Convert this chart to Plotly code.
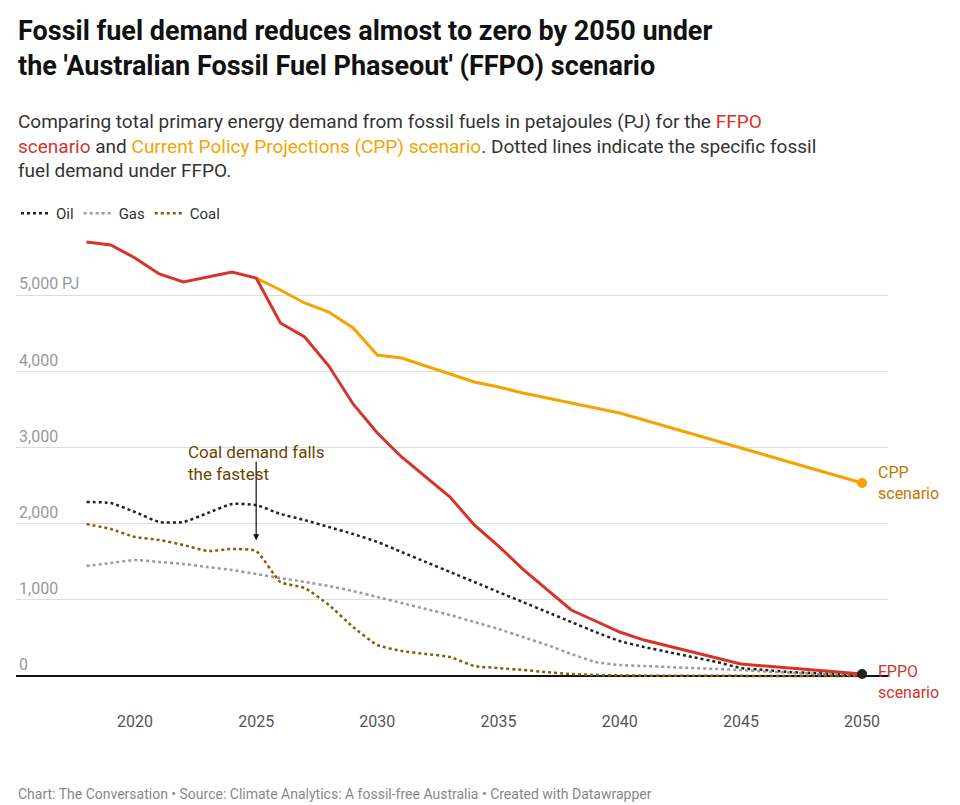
import plotly.graph_objects as go

years = list(range(2018, 2051))
ffpo = [5695,5656,5486,5276,5171,5236,5302,5223,4633,4449,4068,3570,3189,2874,2612,2349,1982,1706,1404,1129,866,722,577,472,394,315,236,157,131,105,79,52,26]
cpp_years = list(range(2025, 2051))
cpp = [5223,5066,4895,4777,4567,4213,4173,4068,3963,3858,3793,3714,3648,3583,3517,3451,3360,3268,3176,3084,2992,2900,2808,2717,2625,2533]
oil = [2283,2270,2152,2021,2021,2139,2257,2244,2126,2047,1955,1863,1759,1627,1496,1365,1234,1102,971,840,709,577,459,381,315,249,184,105,79,52,39,26,13]
gas = [1444,1483,1522,1496,1470,1430,1391,1339,1286,1234,1181,1115,1037,958,879,801,709,617,512,407,289,184,144,131,118,105,92,79,60,45,30,20,10]
coal = [1995,1929,1824,1785,1719,1640,1667,1640,1234,1155,932,643,407,328,289,249,131,105,79,52,26,13,8,5,4,3,2,2,1,1,1,1,1]
yticks = [0,1000,2000,3000,4000,5000]
ytext = ["0","1,000","2,000","3,000","4,000","5,000 PJ"]

RED, ORANGE, BROWN, GRAY = "#d6342a", "#f5a300", "#8b5a00", "#9a9a9a"
fig = go.Figure()
for name, ys, col in [("Oil", oil, "#222222"), ("Gas", gas, GRAY), ("Coal", coal, BROWN)]:
    fig.add_trace(go.Scatter(x=years, y=ys, name=name, mode="lines",
                             line=dict(color=col, width=2.5, dash="dot", shape="spline", smoothing=0.5)))
fig.add_trace(go.Scatter(x=cpp_years, y=cpp, mode="lines", showlegend=False,
                         line=dict(color=ORANGE, width=3)))
fig.add_trace(go.Scatter(x=years, y=ffpo, mode="lines", showlegend=False,
                         line=dict(color=RED, width=3)))
fig.add_trace(go.Scatter(x=[cpp_years[-1]], y=[cpp[-1]], mode="markers", showlegend=False,
                         marker=dict(color=ORANGE, size=10)))
fig.add_trace(go.Scatter(x=[years[-1]], y=[ffpo[-1]], mode="markers", showlegend=False,
                         marker=dict(color="#222222", size=10)))

fig.update_layout(
    width=960, height=805, plot_bgcolor="white", paper_bgcolor="white",
    margin=dict(l=8, r=80, t=222, b=103),
    font=dict(family="Roboto", size=16, color="#333"),
    legend=dict(orientation="h", x=0, xanchor="left", y=1.0, yanchor="bottom",
                font=dict(size=15), itemwidth=30),
    xaxis=dict(range=[2015.09, 2051.07], tickvals=[2020,2025,2030,2035,2040,2045,2050],
               showgrid=False, zeroline=False, ticks="", tickfont=dict(size=16, color="#555")),
    yaxis=dict(range=[-446, 5853], tickvals=yticks, ticktext=ytext, ticklabelposition="inside top",
               gridcolor="#dddddd", zeroline=True, zerolinecolor="#111", zerolinewidth=1.5,
               tickfont=dict(size=16, color="#999")),
)
fig.add_annotation(xref="paper", yref="paper", x=0.0, y=1.452, xanchor="left", yanchor="top", align="left",
    showarrow=False, font=dict(size=27, color="#111"),
    text="<b>Fossil fuel demand reduces almost to zero by 2050 under<br>the 'Australian Fossil Fuel Phaseout' (FFPO) scenario</b>")
fig.add_annotation(xref="paper", yref="paper", x=0.0, y=1.255, xanchor="left", yanchor="top", align="left",
    showarrow=False, font=dict(size=19, color="#333"),
    text=("Comparing total primary energy demand from fossil fuels in petajoules (PJ) for the <span style='color:%s'>FFPO</span><br>"
          "<span style='color:%s'>scenario</span> and <span style='color:%s'>Current Policy Projections (CPP) scenario</span>. Dotted lines indicate the specific fossil<br>"
          "fuel demand under FFPO.") % (RED, RED, ORANGE))
fig.add_annotation(x=2050, y=cpp[-1], xanchor="left", showarrow=False, xshift=14,
                   text="CPP<br>scenario", align="left", font=dict(color="#c07800", size=16))
fig.add_annotation(x=2050, y=ffpo[-1], xanchor="left", showarrow=False, xshift=14, yshift=-8,
                   text="FPPO<br>scenario", align="left", font=dict(color=RED, size=16))
fig.add_annotation(x=2025, y=1780, ax=0, ay=-80, showarrow=True, arrowhead=2, arrowsize=1, arrowwidth=1.2,
                   arrowcolor="#111", text="", standoff=0)
fig.add_annotation(x=2025, y=3100, showarrow=False, text="Coal demand falls<br>the fastest", align="left",
                   xanchor="left", xshift=-70, yanchor="top", font=dict(color="#6b4500", size=17))
fig.add_annotation(xref="paper", yref="paper", x=0, y=-0.155, xanchor="left", yanchor="top", showarrow=False,
                   text="Chart: The Conversation • Source: Climate Analytics: A fossil-free Australia • Created with Datawrapper",
                   font=dict(size=14, color="#888"))
fig.write_html("out.html")
